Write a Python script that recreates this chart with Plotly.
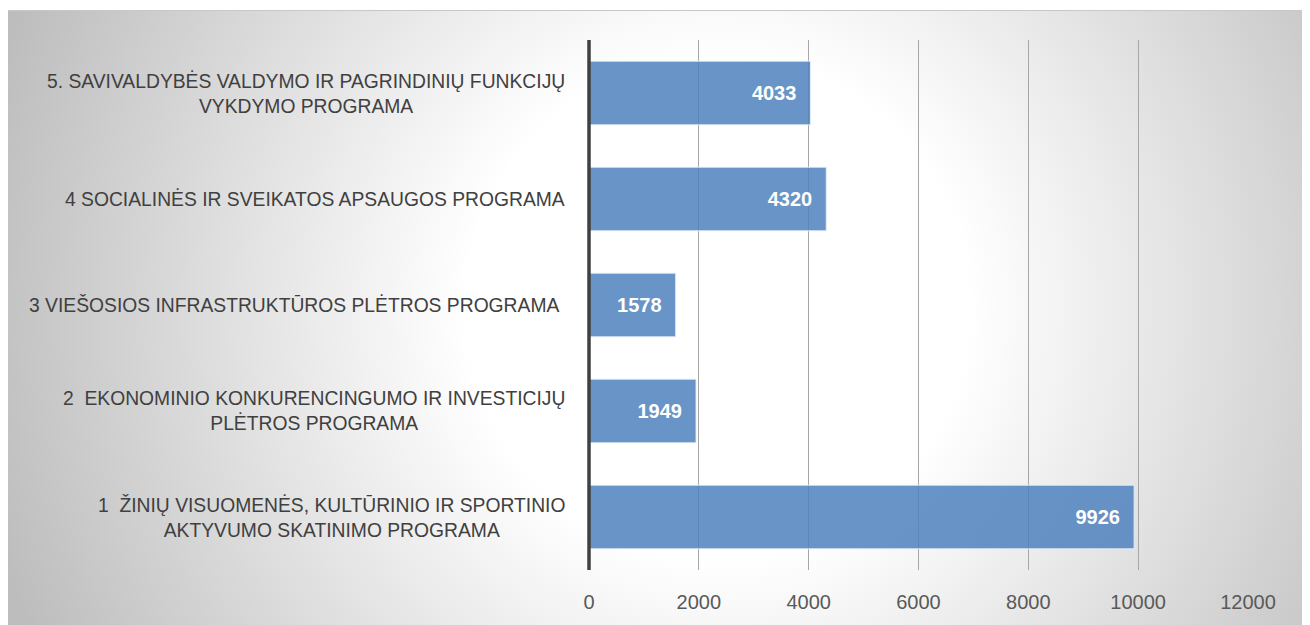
import base64
import plotly.graph_objects as go

# data
programs = [
    "1  ŽINIŲ VISUOMENĖS, KULTŪRINIO IR SPORTINIO<br>AKTYVUMO SKATINIMO PROGRAMA",
    "2  EKONOMINIO KONKURENCINGUMO IR INVESTICIJŲ<br>PLĖTROS PROGRAMA",
    "3 VIEŠOSIOS INFRASTRUKTŪROS PLĖTROS PROGRAMA&nbsp;",
    "4 SOCIALINĖS IR SVEIKATOS APSAUGOS PROGRAMA",
    "5. SAVIVALDYBĖS VALDYMO IR PAGRINDINIŲ FUNKCIJŲ<br>VYKDYMO PROGRAMA",
]
values = [9926, 1949, 1578, 4320, 4033]
x_ticks = [0, 2000, 4000, 6000, 8000, 10000, 12000]

# page has an 8px body margin, so the figure is drawn a bit smaller
W, H = 1302, 617
ml, mr, mt, mb = 581, 62, 32, 55
pw, ph = W - ml - mr, H - mt - mb

font = "Liberation Sans, Arial, sans-serif"

# radial gray background as svg
svg = f'''<svg xmlns="http://www.w3.org/2000/svg" width="{W}" height="{H}">
<defs><radialGradient id="g" gradientUnits="userSpaceOnUse" cx="710" cy="300" r="760">
<stop offset="0" stop-color="#ffffff"/><stop offset="0.33" stop-color="#ffffff"/>
<stop offset="1" stop-color="#bdbdbd"/></radialGradient></defs>
<rect x="-1" y="2.5" width="1301.5" height="620" fill="url(#g)" stroke="#c8c8c8" stroke-width="1"/>
</svg>'''
bg = "data:image/svg+xml;base64," + base64.b64encode(svg.encode()).decode()

cats = list(range(len(programs)))

fig = go.Figure()
fig.add_trace(go.Bar(
    y=cats, x=values, orientation="h",
    marker=dict(color="rgba(79,129,189,0.85)", line=dict(color="rgba(230,238,248,0.9)", width=1)),
    text=[f"{v}&nbsp;&nbsp;" for v in values], textposition="inside", insidetextanchor="end",
    textfont=dict(family=font, size=20, color="white", weight="bold"),
    width=0.6, hoverinfo="skip",
))

for c, p in zip(cats, programs):
    fig.add_annotation(
        x=0, y=c, xref="paper", yref="y", text=p, showarrow=False,
        xanchor="right", yanchor="middle", align="center", xshift=-22,
        font=dict(family=font, size=19.3, color="#404040"),
    )

fig.add_layout_image(dict(
    source=bg, xref="paper", yref="paper",
    x=-ml / pw, y=1 + mt / ph, sizex=W / pw, sizey=H / ph,
    xanchor="left", yanchor="top", sizing="stretch", layer="below",
))

fig.update_layout(
    width=W, height=H,
    margin=dict(l=ml, r=mr, t=mt, b=mb),
    paper_bgcolor="white", plot_bgcolor="rgba(0,0,0,0)",
    showlegend=False,
    xaxis=dict(
        range=[0, 12000], tickvals=x_ticks, ticktext=[str(t) for t in x_ticks],
        showgrid=True, gridcolor="#a6a6a6", gridwidth=1, zeroline=False,
        showline=False, ticks="", ticklabelstandoff=18,
        tickfont=dict(family=font, size=20, color="#595959"),
    ),
    yaxis=dict(
        range=[-0.5, 4.5], showticklabels=False, showgrid=False,
        zeroline=False, showline=False, ticks="",
    ),
    shapes=[dict(type="line", xref="paper", yref="paper", x0=0, x1=0, y0=0, y1=1,
                 layer="above", line=dict(color="#404040", width=3.5))],
)

fig.write_html("out.html")
